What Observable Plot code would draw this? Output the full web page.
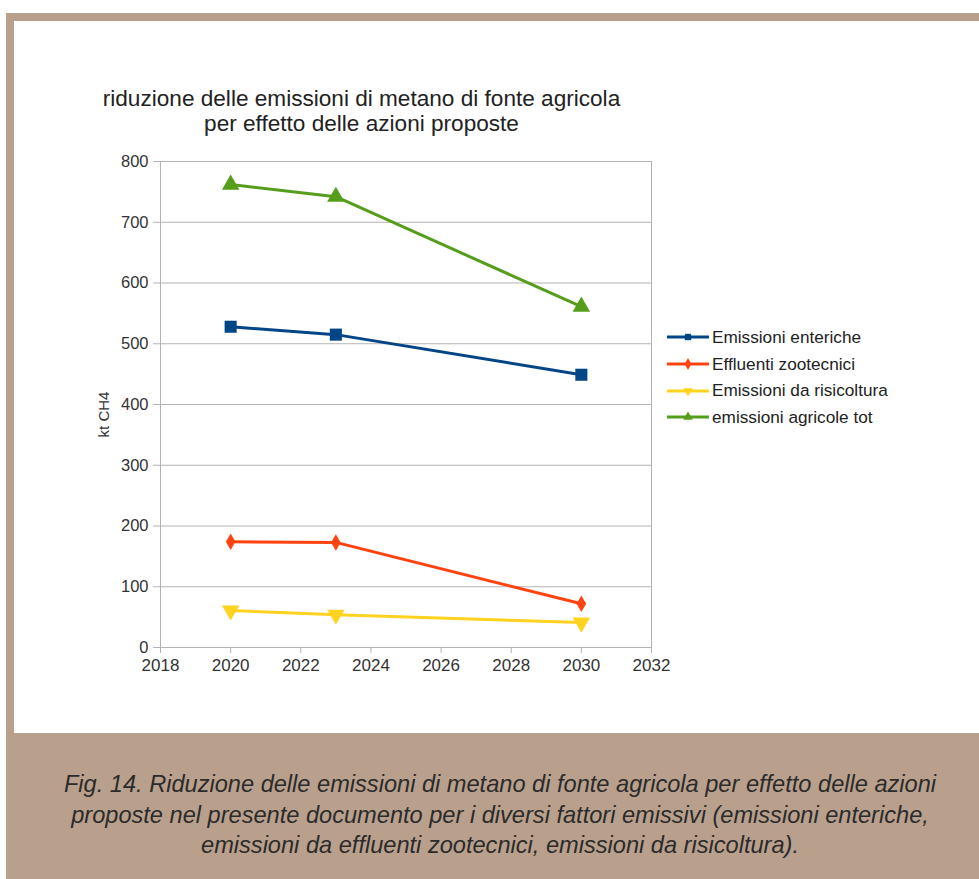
<!DOCTYPE html>
<html><head><meta charset="utf-8">
<script src="https://cdn.jsdelivr.net/npm/d3@7"></script>
<script src="https://cdn.jsdelivr.net/npm/@observablehq/plot@0.6"></script>
<style>
html,body{margin:0;padding:0;}
body{background:#fff;width:979px;height:879px;position:relative;overflow:hidden;font-family:"Liberation Sans",Arial,sans-serif;}
#frame{position:absolute;left:6px;top:13px;width:973px;height:866px;background:#b9a08c;}
#inner{position:absolute;left:14px;top:21px;width:965px;height:712px;background:#fff;}
#title{position:absolute;left:0;width:723px;top:86px;text-align:center;font-size:22.6px;line-height:25px;color:#222;}
#chart{position:absolute;left:0;top:140px;}
#legend{position:absolute;left:666px;top:324px;font-size:17.2px;color:#222;}
#legend .row{display:flex;align-items:center;height:26.7px;}
#legend svg{margin-right:2px;}
#caption{position:absolute;left:0;width:1000px;top:769px;text-align:center;font-style:italic;font-size:23.6px;line-height:30.5px;color:#2b2b2b;}
</style>
</head><body>
<div id="frame"></div>
<div id="inner"></div>
<div id="title">riduzione delle emissioni di metano di fonte agricola<br>per effetto delle azioni proposte</div>
<div id="chart"></div>
<div id="legend"></div>
<div id="caption">Fig. 14. Riduzione delle emissioni di metano di fonte agricola per effetto delle azioni<br>proposte nel presente documento per i diversi fattori emissivi (emissioni enteriche,<br>emissioni da effluenti zootecnici, emissioni da risicoltura).</div>
<script>
const years = [2020, 2023, 2030];
const seriesNames = ["Emissioni enteriche", "Effluenti zootecnici", "Emissioni da risicoltura", "emissioni agricole tot"];
const enteriche = [528, 515, 449];
const effluenti = [174, 173, 72];
const risicoltura = [61, 54, 41];
const totale = [762, 742, 561];
const colors = ["#004586", "#ff420e", "#ffd320", "#579d1c"];
const symbols = ["square", "diamond", "triangle", "triangle"];
const rotations = [0, 0, 180, 0];
const radii = [6.8, 5, 6.5, 6.5];
const xTicks = [2018, 2020, 2022, 2024, 2026, 2028, 2030, 2032];
const yTicks = [0, 100, 200, 300, 400, 500, 600, 700, 800];
const yLabel = "kt CH4";

const allValues = [enteriche, effluenti, risicoltura, totale];
const data = [];
allValues.forEach((vals, si) => vals.forEach((v, i) => data.push({year: years[i], value: v, series: seriesNames[si], si})));

const marks = [
  Plot.gridY(yTicks, {stroke: "#b3b3b3", strokeOpacity: 1}),
  Plot.ruleX([xTicks[0], xTicks[xTicks.length - 1]], {stroke: "#b3b3b3"}),
  Plot.axisX({ticks: xTicks, tickFormat: d => String(d), tickSize: 6, tickPadding: 5, stroke: "#b3b3b3", fill: "#333", fontSize: 17, label: null}),
  Plot.axisY({ticks: yTicks, tickSize: 7, tickPadding: 5, stroke: "#b3b3b3", fill: "#333", fontSize: 16.5, label: null}),
  Plot.text([yLabel], {frameAnchor: "left", textAnchor: "middle", dx: -56, dy: 10, rotate: -90, fontSize: 15, fill: "#333"})
];
seriesNames.forEach((name, si) => {
  const d = data.filter(r => r.si === si);
  marks.push(Plot.line(d, {x: "year", y: "value", stroke: colors[si], strokeWidth: 3}));
  marks.push(Plot.dot(d, {x: "year", y: "value", symbol: symbols[si], fill: colors[si], stroke: "none", r: radii[si], rotate: rotations[si]}));
});

const chart = Plot.plot({
  width: 700,
  height: 547,
  marginLeft: 160,
  marginRight: 49,
  marginTop: 21,
  marginBottom: 40,
  style: {fontFamily: "'Liberation Sans', Arial, sans-serif", background: "transparent", color: "#333"},
  x: {domain: [2018, 2032]},
  y: {domain: [0, 800]},
  marks
});
document.getElementById("chart").appendChild(chart);

// legend
const legend = document.getElementById("legend");
seriesNames.forEach((name, si) => {
  const row = document.createElement("div");
  row.className = "row";
  const ns = "http://www.w3.org/2000/svg";
  const svg = document.createElementNS(ns, "svg");
  svg.setAttribute("width", 44); svg.setAttribute("height", 14);
  const line = document.createElementNS(ns, "line");
  line.setAttribute("x1", 1); line.setAttribute("x2", 43); line.setAttribute("y1", 7); line.setAttribute("y2", 7);
  line.setAttribute("stroke", colors[si]); line.setAttribute("stroke-width", 3);
  svg.appendChild(line);
  const symMap = {square: d3.symbolSquare, diamond: d3.symbolDiamond, triangle: d3.symbolTriangle};
  const path = document.createElementNS(ns, "path");
  path.setAttribute("d", d3.symbol(symMap[symbols[si]], 40)());
  path.setAttribute("transform", `translate(22,7) rotate(${rotations[si]})`);
  path.setAttribute("fill", colors[si]);
  svg.appendChild(path);
  row.appendChild(svg);
  const span = document.createElement("span");
  span.textContent = name;
  row.appendChild(span);
  legend.appendChild(row);
});
</script>
</body></html>
